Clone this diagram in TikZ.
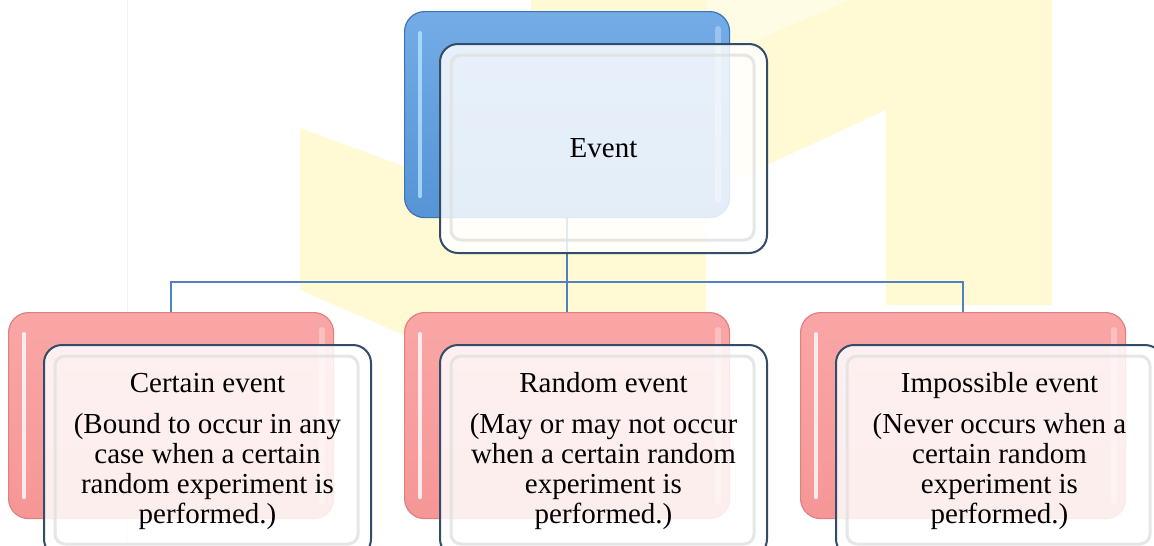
\documentclass[tikz,border=0pt]{standalone}
\usepackage{fontspec}
\setmainfont{Liberation Serif}

\definecolor{wm}{RGB}{255,249,212}
\definecolor{wmpale}{RGB}{255,252,230}
\definecolor{linkcol}{RGB}{79,129,189}
\definecolor{blueTop}{RGB}{116,172,230}
\definecolor{blueBot}{RGB}{86,148,214}
\definecolor{blueEdge}{RGB}{60,116,184}
\definecolor{pinkTop}{RGB}{250,166,166}
\definecolor{pinkBot}{RGB}{246,150,150}
\definecolor{pinkEdge}{RGB}{226,128,128}
\definecolor{frontEdge}{RGB}{50,76,106}

\tikzset{
  backbox/.style={rounded corners=20, minimum width=325, minimum height=206,
    anchor=north west, inner sep=0, line width=1.2},
  blueback/.style={backbox, top color=blueTop, bottom color=blueBot, draw=blueEdge},
  pinkback/.style={backbox, top color=pinkTop, bottom color=pinkBot, draw=pinkEdge},
  frontbox/.style={rounded corners=18, minimum width=327, anchor=north west,
    inner sep=0, draw=frontEdge, line width=2, fill=white, fill opacity=0.84,
    text opacity=1, align=center, font=\fontsize{29}{30}\selectfont},
  bevel/.style={rounded corners=10, draw=black!12, line width=3, opacity=0.8},
  glossL/.style={line width=4, line cap=round, opacity=0.8},
  glossR/.style={line width=6, line cap=round, white, opacity=0.3},
  link/.style={draw=linkcol, line width=2.5},
}

\begin{document}
\begin{tikzpicture}[x=1pt, y=-1pt]
  \useasboundingbox (0,0) rectangle (1154,546);
  \fill[white] (0,0) rectangle (1154,546);

  % pale background logo
  \fill[wmpale] (706,0) -- (850,0) -- (706,62) -- cycle;
  \fill[wm] (300,128) -- (531,213) -- (531,0) -- (706,0) -- (706,62) -- (850,0)
    -- (1052,0) -- (1052,305) -- (886,305) -- (886,110) -- (706,193)
    -- (706,312) -- (404,335) -- (300,290) -- cycle;
  \draw[black!5, line width=1] (127,0) -- (127,546);

  % back plates
  \node[blueback] (tb) at (404,11) {};
  \node[pinkback] (b1) at (8,312) {};
  \node[pinkback] (b2) at (404,312) {};
  \node[pinkback] (b3) at (800,312) {};

  % glossy highlights on the plates
  \draw[glossL, color={rgb,255:red,180;green,226;blue,255}]
    ([shift={(16,22)}]tb.north west) -- ([shift={(16,-22)}]tb.south west);
  \draw[glossR] ([shift={(-12,18)}]tb.north east) -- ([shift={(-12,-18)}]tb.south east);
  \foreach \n in {b1,b2,b3} {
    \draw[glossL, white] ([shift={(16,22)}]\n.north west) -- ([shift={(16,-22)}]\n.south west);
    \draw[glossR] ([shift={(-12,18)}]\n.north east) -- ([shift={(-12,-18)}]\n.south east);
  }

  % tree connectors
  \coordinate (bus) at (0,282);
  \draw[link] (tb.south) -- (tb.south |- bus);
  \draw[link] (b1.north) |- (bus -| b3.north) -- (b3.north);
  \draw[link] (b2.north) -- (b2.north |- bus);

  % front cards
  \node[frontbox, minimum height=209] (ft) at (439,43) {Event};
  \node[frontbox, minimum height=212] (f1) at (43,344)
    {Certain event\\[11pt](Bound to occur in any\\case when a certain\\random experiment is\\performed.)};
  \node[frontbox, minimum height=212] (f2) at (439,344)
    {Random event\\[11pt](May or may not occur\\when a certain random\\experiment is\\performed.)};
  \node[frontbox, minimum height=212] (f3) at (835,344)
    {Impossible event\\[11pt](Never occurs when a\\certain random\\experiment is\\performed.)};

  % inner bevel of the cards
  \foreach \n in {ft,f1,f2,f3} {
    \draw[bevel] ([shift={(12,12)}]\n.north west) rectangle ([shift={(-14,-14)}]\n.south east);
  }
\end{tikzpicture}
\end{document}
